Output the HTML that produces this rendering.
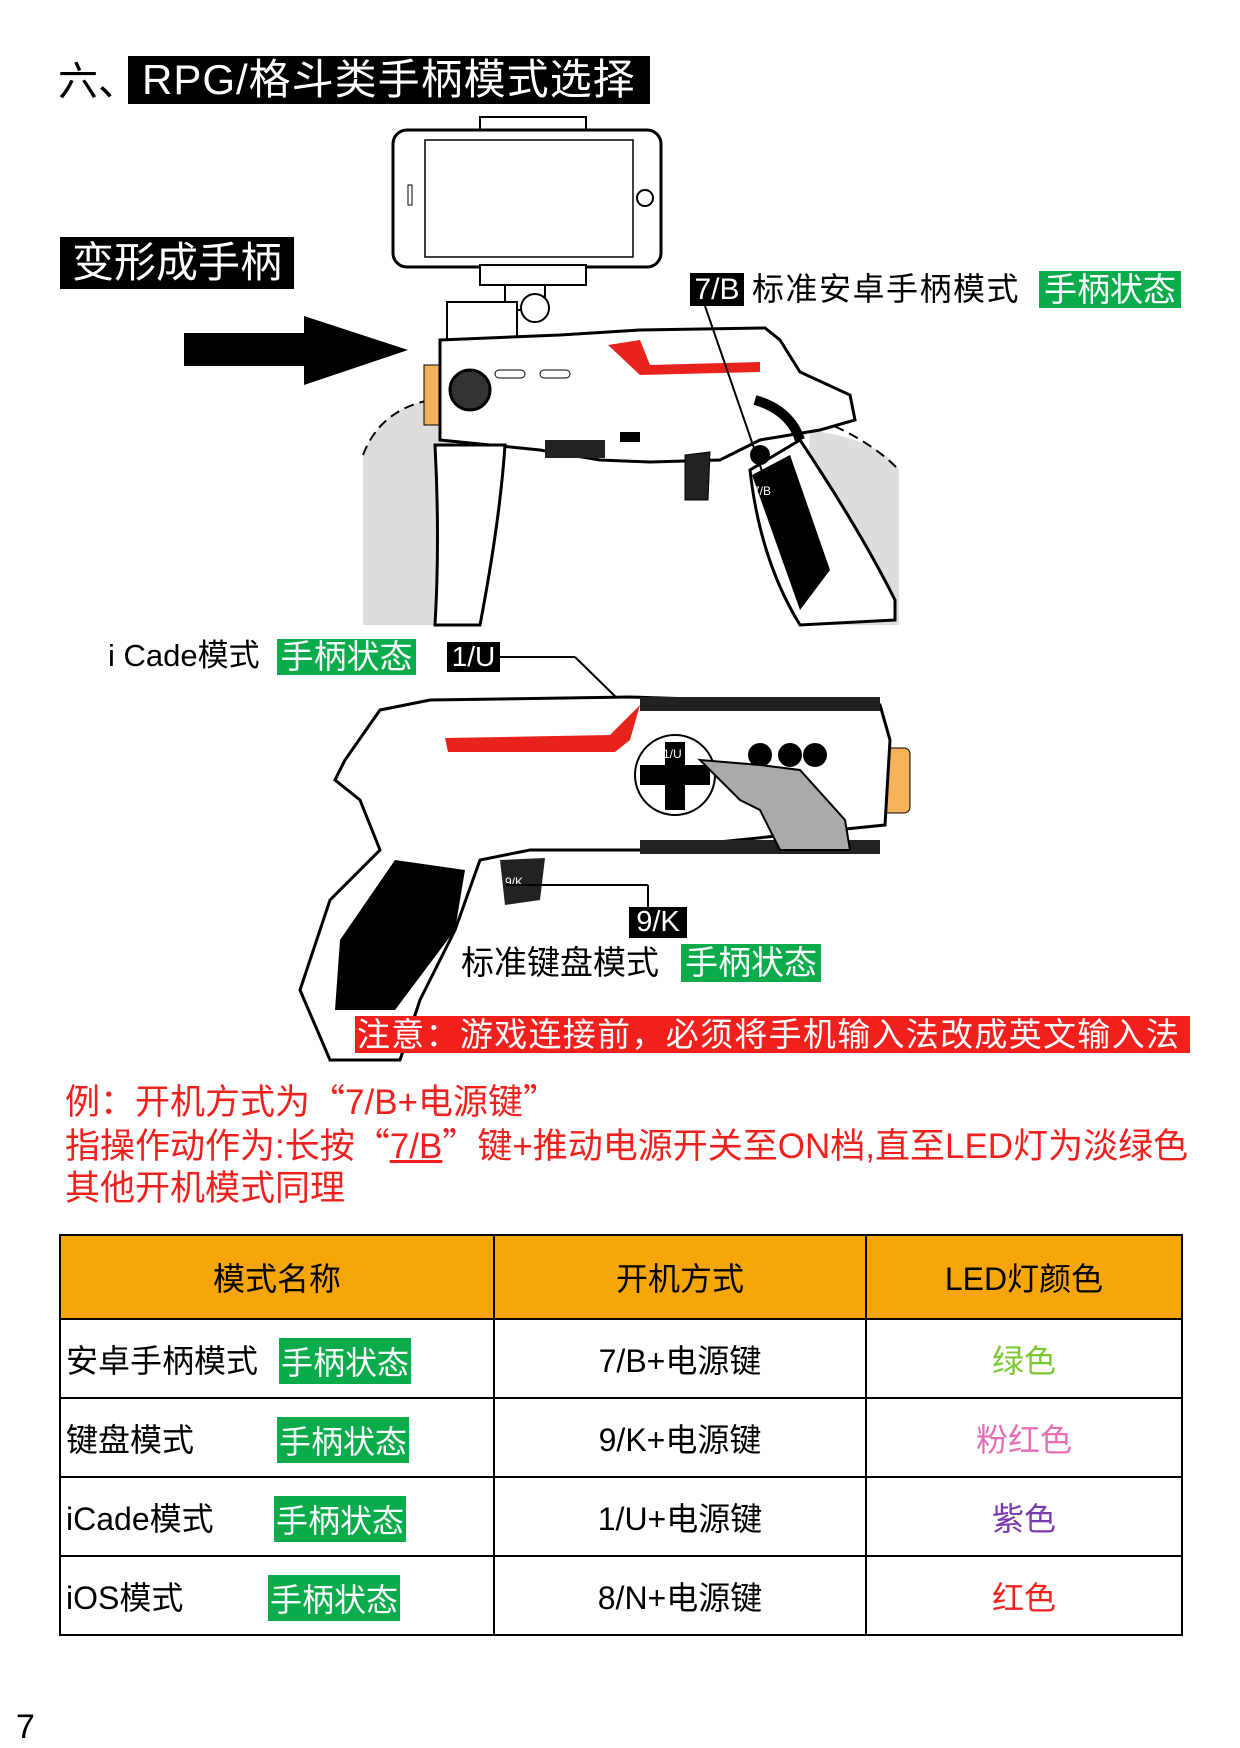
<!DOCTYPE html>
<html><head><meta charset="utf-8"><style>
body{margin:0;width:1240px;height:1748px;background:#fff;position:relative;overflow:hidden;font-family:"Liberation Sans","Noto Sans CJK SC",sans-serif;}
.a{position:absolute;white-space:nowrap;line-height:1;}
.blk{background:#000;color:#fff;}
.grn{background:#0aab4a;color:#fff;}
.q{font-family:"Noto Sans CJK SC",sans-serif;}
table{position:absolute;left:59px;top:1234px;width:1124px;border-collapse:collapse;table-layout:fixed;}
td{border:2px solid #000;height:77px;font-size:32px;text-align:center;padding:0;}
th{border:2px solid #000;height:80px;font-size:32px;font-weight:normal;background:#f6a609;}
td.l{text-align:left;padding-left:5px;position:relative;}
td.l span.g{position:absolute;background:#0aab4a;color:#fff;padding:0 2px;top:18px;}
</style></head><body>
<div class="a" style="left:58px;top:62px;font-size:40px;">六、</div>
<div class="a blk" style="left:128px;top:56px;width:522px;height:48px;font-size:42px;line-height:48px;padding-left:14px;box-sizing:border-box;letter-spacing:1px;">RPG/格斗类手柄模式选择</div>
<div class="a blk" style="left:60px;top:237px;width:234px;height:52px;font-size:42px;line-height:52px;text-align:center;">变形成手柄</div>

<svg style="position:absolute;left:0;top:0" width="1240" height="1100">
<polygon points="184,333 304,333 304,316 408,350 304,385 304,366 184,366" fill="#000"/>
<rect x="480" y="117" width="106" height="20" fill="#fff" stroke="#000" stroke-width="2"/>
<rect x="393" y="130" width="268" height="137" rx="14" fill="#fff" stroke="#000" stroke-width="3"/>
<rect x="425" y="140" width="208" height="117" fill="#fff" stroke="#000" stroke-width="1.5"/>
<circle cx="645" cy="198" r="8" fill="none" stroke="#000" stroke-width="2"/>
<rect x="408" y="185" width="4" height="20" fill="none" stroke="#000"/>
<rect x="480" y="265" width="106" height="20" fill="#fff" stroke="#000" stroke-width="2"/>
<rect x="505" y="285" width="40" height="25" fill="#fff" stroke="#000" stroke-width="2"/>
<path d="M363,455 Q380,410 430,400 L460,420 L445,625 L363,625 Z" fill="#ddd"/>
<path d="M810,430 Q880,440 899,470 L899,625 L800,625 Z" fill="#ddd"/>
<path d="M363,455 Q380,410 430,400" fill="none" stroke="#000" stroke-width="2" stroke-dasharray="10,6"/>
<path d="M820,420 Q870,440 899,470" fill="none" stroke="#000" stroke-width="2" stroke-dasharray="10,6"/>
<rect x="424" y="365" width="20" height="60" fill="#f5b25a" stroke="#000"/>
<rect x="447" y="302" width="70" height="40" fill="#fff" stroke="#000" stroke-width="2"/>
<circle cx="535" cy="308" r="14" fill="#fff" stroke="#000" stroke-width="2"/>
<path d="M440,340 L560,335 L640,330 L765,328 L780,340 L800,372 L850,395 L855,420 L820,430 L760,440 L720,460 L650,462 L600,460 L540,450 L440,440 Z" fill="#fff" stroke="#000" stroke-width="3"/>
<polygon points="608,345 640,340 650,365 760,362 760,372 640,375" fill="#e8231e"/>
<circle cx="470" cy="390" r="20" fill="#333" stroke="#000" stroke-width="3"/>
<rect x="495" y="370" width="30" height="8" rx="4" fill="#fff" stroke="#000"/>
<rect x="540" y="370" width="30" height="8" rx="4" fill="#fff" stroke="#000"/>
<rect x="545" y="440" width="60" height="18" fill="#222"/>
<rect x="620" y="432" width="20" height="10" fill="#000"/>
<path d="M435,445 L505,445 Q500,520 480,625 L435,625 Q440,540 435,445 Z" fill="#fff" stroke="#000" stroke-width="3"/>
<path d="M685,455 L710,452 L708,500 L685,500 Z" fill="#222" stroke="#000"/>
<path d="M750,470 L800,440 Q860,530 895,600 L895,620 L800,625 Q760,560 750,470 Z" fill="#fff" stroke="#000" stroke-width="3"/>
<path d="M752,475 L790,455 L830,570 L800,610 Z" fill="#000"/>
<circle cx="760" cy="455" r="10" fill="#000"/>
<path d="M755,400 Q790,410 800,440" stroke="#000" stroke-width="10" fill="none"/>
<text x="753" y="495" font-size="12" fill="#fff" font-family="Liberation Sans">7/B</text>
<line x1="705" y1="306" x2="765" y2="480" stroke="#000" stroke-width="2"/>
<line x1="500" y1="657" x2="575" y2="657" stroke="#000" stroke-width="2"/>
<line x1="575" y1="657" x2="680" y2="760" stroke="#000" stroke-width="2"/>
<rect x="880" y="748" width="30" height="65" rx="6" fill="#f5b25a" stroke="#000"/>
<path d="M430,700 L630,697 L880,705 L890,740 L885,825 L640,850 L530,850 L480,860 L455,930 L420,1000 L400,1060 L330,1060 L300,990 L330,900 L380,850 L360,800 L335,780 L345,760 L380,710 Z" fill="#fff" stroke="#000" stroke-width="3"/>
<rect x="640" y="697" width="240" height="14" fill="#222"/>
<rect x="640" y="840" width="240" height="14" fill="#222"/>
<polygon points="445,738 610,735 640,705 630,740 615,752 448,752" fill="#e8231e"/>
<path d="M395,860 L465,870 L455,930 L395,1010 L335,1010 L340,940 Z" fill="#000"/>
<path d="M500,860 L545,858 L540,900 L505,905 Z" fill="#222"/>
<text x="505" y="886" font-size="12" fill="#fff" font-family="Liberation Sans">9/K</text>
<circle cx="675" cy="775" r="40" fill="#fff" stroke="#000" stroke-width="2"/>
<rect x="640" y="765" width="70" height="20" fill="#000"/>
<rect x="665" y="742" width="20" height="68" fill="#000"/>
<text x="663" y="758" font-size="12" fill="#fff" font-family="Liberation Sans">1/U</text>
<circle cx="760" cy="755" r="12" fill="#000"/><circle cx="790" cy="755" r="12" fill="#000"/><circle cx="815" cy="755" r="12" fill="#000"/>
<path d="M700,760 L760,765 L800,770 L845,820 L850,850 L780,850 L760,810 L740,800 Z" fill="#aaa" stroke="#000" stroke-width="2"/>
<line x1="505" y1="885" x2="648" y2="885" stroke="#000" stroke-width="2"/>
<line x1="648" y1="885" x2="648" y2="907" stroke="#000" stroke-width="2"/>
</svg>

<div class="a blk" style="left:690px;top:273px;width:54px;height:33px;font-size:30px;line-height:33px;text-align:center;">7/B</div>
<div class="a" style="left:752px;top:273px;font-size:32px;letter-spacing:1.5px;">标准安卓手柄模式</div>
<div class="a grn" style="left:1039px;top:271px;width:142px;height:37px;font-size:33px;line-height:37px;text-align:center;">手柄状态</div>

<div class="a" style="left:108px;top:640px;font-size:31px;">i Cade模式</div>
<div class="a grn" style="left:277px;top:639px;width:139px;height:36px;font-size:33px;line-height:36px;text-align:center;">手柄状态</div>
<div class="a blk" style="left:447px;top:642px;width:53px;height:30px;font-size:28px;line-height:30px;text-align:center;">1/U</div>

<div class="a blk" style="left:629px;top:907px;width:58px;height:31px;font-size:29px;line-height:31px;text-align:center;">9/K</div>
<div class="a" style="left:461px;top:946px;font-size:33px;">标准键盘模式</div>
<div class="a grn" style="left:681px;top:944px;width:140px;height:38px;font-size:33px;line-height:38px;text-align:center;">手柄状态</div>

<div class="a" style="left:355px;top:1016px;width:835px;height:37px;background:#f2201d;color:#fff;font-size:33px;line-height:37px;padding-left:2px;box-sizing:border-box;letter-spacing:1.3px;">注意：游戏连接前，必须将手机输入法改成英文输入法</div>

<div class="a" style="left:65px;top:1082px;font-size:35px;color:#f2201d;">例：开机方式为<span class="q">“</span>7/B+电源键<span class="q">”</span></div>
<div class="a" style="left:65px;top:1126px;font-size:35px;color:#f2201d;">指操作动作为:长按<span class="q">“</span><u>7/B</u><span class="q">”</span>键+推动电源开关至ON档,直至LED灯为淡绿色</div>
<div class="a" style="left:65px;top:1171px;font-size:35px;color:#f2201d;">其他开机模式同理</div>

<table>
<colgroup><col style="width:434px"><col style="width:372px"><col></colgroup>
<tr><th>模式名称</th><th>开机方式</th><th>LED灯颜色</th></tr>
<tr><td class="l">安卓手柄模式<span class="g" style="left:218px">手柄状态</span></td><td>7/B+电源键</td><td style="color:#7dc832">绿色</td></tr>
<tr><td class="l">键盘模式<span class="g" style="left:216px">手柄状态</span></td><td>9/K+电源键</td><td style="color:#e46fb4">粉红色</td></tr>
<tr><td class="l">iCade模式<span class="g" style="left:213px">手柄状态</span></td><td>1/U+电源键</td><td style="color:#7a3bb0">紫色</td></tr>
<tr><td class="l">iOS模式<span class="g" style="left:207px">手柄状态</span></td><td>8/N+电源键</td><td style="color:#f2201d">红色</td></tr>
</table>

<div class="a" style="left:16px;top:1710px;font-size:34px;">7</div>
</body></html>
